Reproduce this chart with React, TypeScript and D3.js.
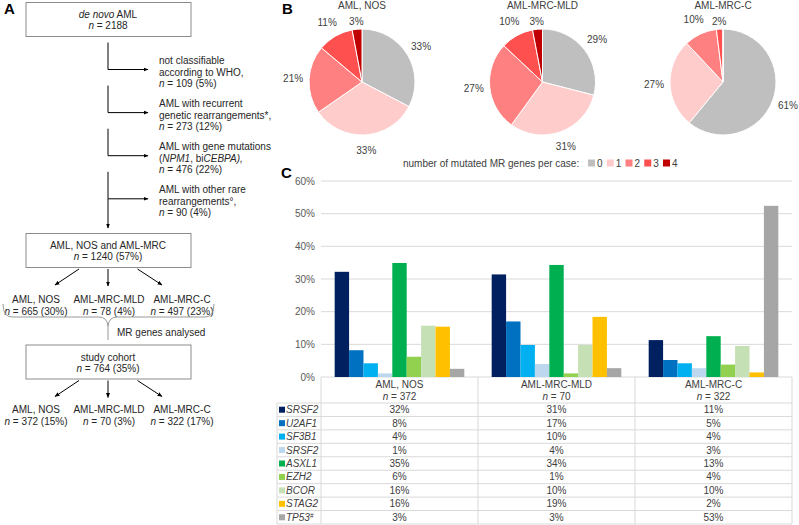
import { useEffect, useRef } from "react";
import { select, scaleLinear, scaleBand, scalePoint, pie, arc, range } from "d3";

const width = 799;
const height = 525;
const font = "'Liberation Sans', Arial, sans-serif";

// ---- panel A (flow chart), "_x_" marks italic text
const startBox = ["_de novo_ AML", "_n_ = 2188"];
const exclusions = [
  ["not classifiable", "according to WHO,", "_n_ = 109 (5%)"],
  ["AML with recurrent", "genetic rearrangements*,", "_n_ = 273 (12%)"],
  ["AML with gene mutations", "(_NPM1_, bi_CEBPA),_", "_n_ = 476 (22%)"],
  ["AML with other rare", "rearrangements°,", "_n_ = 90 (4%)"],
];
const mergedBox = ["AML, NOS and AML-MRC", "_n_ = 1240 (57%)"];
const subtypes = ["AML, NOS", "AML-MRC-MLD", "AML-MRC-C"];
const subtypeAll = ["_n_ = 665 (30%)", "_n_ = 78 (4%)", "_n_ = 497 (23%)"];
const cohortBox = ["study cohort", "_n_ = 764 (35%)"];
const subtypeStudy = ["_n_ = 372 (15%)", "_n_ = 70 (3%)", "_n_ = 322 (17%)"];

// ---- panel B (pies)
const pieGroups = ["AML, NOS", "AML-MRC-MLD", "AML-MRC-C"];
const mrCounts = ["0", "1", "2", "3", "4"];
const pieNos = [33, 33, 21, 11, 3];
const pieMld = [29, 31, 27, 10, 3];
const pieMrcC = [61, 27, 10, 2, 0];
const pieColors = ["#BFBFBF", "#FFCCCC", "#FF8080", "#FF5050", "#C00000"];

// ---- panel C (bars + table)
const genes = ["SRSF2", "U2AF1", "SF3B1", "SRSF2", "ASXL1", "EZH2", "BCOR", "STAG2", "TP53"];
const geneColors = ["#002060", "#0070C0", "#00B0F0", "#BDD7EE", "#00B050", "#92D050", "#C5E0B4", "#FFC000", "#A6A6A6"];
const cohortN = [372, 70, 322];
const barNos = [32.2, 8.2, 4.2, 1.1, 34.9, 6.2, 15.7, 15.4, 2.5];
const barMld = [31.4, 17.0, 9.8, 4.0, 34.3, 1.1, 9.8, 18.4, 2.7];
const barMrcC = [11.3, 5.2, 4.2, 2.7, 12.5, 3.8, 9.5, 1.4, 52.4];
const tableNos = [32, 8, 4, 1, 35, 6, 16, 16, 3];
const tableMld = [31, 17, 10, 4, 34, 1, 10, 19, 3];
const tableMrcC = [11, 5, 4, 3, 13, 4, 10, 2, 53];
const yTicks = [0, 10, 20, 30, 40, 50, 60];

// append a line of text, "_..._" parts in italic
function richText(g: any, str: string, x: number, y: number, anchor = "middle") {
  const t = g
    .append("text")
    .attr("x", x)
    .attr("y", y)
    .attr("dy", "0.35em")
    .attr("text-anchor", anchor);
  str.split("_").forEach((part, i) => {
    if (part === "") return;
    t.append("tspan").attr("font-style", i % 2 ? "italic" : "normal").text(part);
  });
  return t;
}

export default function App() {
  const ref = useRef(null);

  useEffect(() => {
    if (!ref.current) return;
    const svg = select(ref.current);
    svg.selectAll("*").remove();
    svg.attr("font-family", font).attr("font-size", 10);

    svg
      .append("defs")
      .append("marker")
      .attr("id", "arr")
      .attr("viewBox", "0 0 10 10")
      .attr("refX", 9)
      .attr("refY", 5)
      .attr("markerWidth", 5)
      .attr("markerHeight", 5)
      .attr("orient", "auto")
      .append("path")
      .attr("d", "M0,1 L10,5 L0,9 z")
      .attr("fill", "#000");

    // panel letters
    const letters = [["A", 4, 9], ["B", 282, 9], ["C", 281, 173]];
    letters.forEach(([l, x, y]) => {
      svg.append("text").attr("x", x).attr("y", y).attr("dy", "0.35em")
        .attr("font-size", 15).attr("font-weight", "bold").attr("fill", "#000").text(l as string);
    });

    // ================= A: flow chart
    const fa = svg.append("g").attr("fill", "#262626");
    const cx = 108;
    const boxL = 26;
    const boxW = 165;
    const box = (top: number, lines: string[]) => {
      fa.append("rect").attr("x", boxL).attr("y", top).attr("width", boxW).attr("height", 34)
        .attr("fill", "#fff").attr("stroke", "#8C8C8C").attr("stroke-width", 1);
      lines.forEach((ln, i) => richText(fa, ln, cx, top + 12 + i * 11.3));
    };
    const line = (x1: number, y1: number, x2: number, y2: number, arrow = false) => {
      const l = fa.append("line").attr("x1", x1).attr("y1", y1).attr("x2", x2).attr("y2", y2)
        .attr("stroke", "#000").attr("stroke-width", 1);
      if (arrow) l.attr("marker-end", "url(#arr)");
    };

    box(2.5, startBox);
    exclusions.forEach((lines, i) => {
      const y0 = 42.5 + i * 43.1;
      line(cx, y0, cx, y0 + 27);
      line(cx, y0 + 27, 148, y0 + 27, true);
      lines.forEach((ln, j) => richText(fa, ln, 159, y0 + 18 + j * 11.5, "start"));
    });
    line(cx, 199, cx, 228, true);
    box(233.5, mergedBox);

    const subX = scalePoint().domain(subtypes).range([36, 182]);
    const splitArrows = (top: number) => {
      line(79, top, 55, top + 16, true);
      line(cx, top, cx, top + 17, true);
      line(137.5, top, 162, top + 16, true);
    };
    splitArrows(269);
    subtypes.forEach((s, i) => {
      richText(fa, s, subX(s) as number, 299.5);
      richText(fa, subtypeAll[i], subX(s) as number, 311);
    });
    fa.append("path")
      .attr("d", "M3,304 Q3,317 12,317 L99,317 Q107,317 108,326 L108,340 M108,326 Q109,317 117,317 L205,317 Q214,317 214,304")
      .attr("fill", "none").attr("stroke", "#8C8C8C").attr("stroke-width", 0.9);
    richText(fa, "MR genes analysed", 117, 332.5, "start");
    box(345, cohortBox);
    splitArrows(380.5);
    subtypes.forEach((s, i) => {
      richText(fa, s, subX(s) as number, 409.5);
      richText(fa, subtypeStudy[i], subX(s) as number, 421);
    });

    // ================= B: pies
    const gb = svg.append("g").attr("fill", "#404040");
    const pieX = scalePoint().domain(pieGroups).range([362, 723]);
    const pieY = 82;
    const r = 53;
    const pieGen = pie<number>().sort(null).value((d) => d);
    const arcGen = arc<any>().innerRadius(0).outerRadius(r);
    const labelArc = arc<any>().innerRadius(69).outerRadius(69);
    const smallArc = arc<any>().innerRadius(61).outerRadius(61);
    [pieNos, pieMld, pieMrcC].forEach((vals, gi) => {
      const name = pieGroups[gi];
      const g = gb.append("g").attr("transform", `translate(${pieX(name)},${pieY})`);
      const arcs = pieGen(vals);
      g.selectAll("path")
        .data(arcs)
        .enter()
        .append("path")
        .attr("d", arcGen)
        .attr("fill", (d, i) => pieColors[i])
        .attr("stroke", "#fff")
        .attr("stroke-width", 1);
      g.selectAll(".lbl")
        .data(arcs.filter((d) => d.value > 0))
        .enter()
        .append("text")
        .attr("class", "lbl")
        .attr("transform", (d) => `translate(${(d.value < 5 ? smallArc : labelArc).centroid(d)})`)
        .attr("text-anchor", "middle")
        .attr("dy", "0.35em")
        .text((d) => d.value + "%");
      gb.append("text").attr("x", pieX(name) as number).attr("y", 5).attr("dy", "0.35em")
        .attr("text-anchor", "middle").text(name);
    });

    // legend
    gb.append("text").attr("x", 403).attr("y", 163).attr("dy", "0.35em")
      .text("number of mutated MR genes per case:");
    const legX = scalePoint().domain(mrCounts).range([588, 663]);
    mrCounts.forEach((c, i) => {
      gb.append("rect").attr("x", legX(c) as number).attr("y", 159.5).attr("width", 7).attr("height", 7)
        .attr("fill", pieColors[i]);
      gb.append("text").attr("x", (legX(c) as number) + 9).attr("y", 163).attr("dy", "0.35em").text(c);
    });

    // ================= C: bars
    const gc = svg.append("g").attr("fill", "#404040");
    const plotL = 321;
    const plotR = 792;
    const y = scaleLinear().domain([0, 60]).range([377, 181]);
    const x0 = scaleBand().domain(pieGroups).range([plotL, plotR]);
    const x1 = scaleBand<number>().domain(range(genes.length)).range([0, x0.bandwidth()])
      .paddingInner(0).paddingOuter(0.95);

    yTicks.forEach((t) => {
      gc.append("line").attr("x1", plotL).attr("x2", plotR).attr("y1", y(t)).attr("y2", y(t))
        .attr("stroke", "#D9D9D9").attr("stroke-width", 1);
      gc.append("text").attr("x", 315).attr("y", y(t)).attr("dy", "0.35em")
        .attr("text-anchor", "end").attr("fill", "#595959").text(t + "%");
    });

    [barNos, barMld, barMrcC].forEach((vals, gi) => {
      const g = gc.append("g").attr("transform", `translate(${x0(pieGroups[gi])},0)`);
      g.selectAll("rect")
        .data(vals)
        .enter()
        .append("rect")
        .attr("x", (d, i) => x1(i) as number)
        .attr("width", x1.bandwidth())
        .attr("y", (d) => y(d))
        .attr("height", (d) => y(0) - y(d))
        .attr("fill", (d, i) => geneColors[i]);
    });

    // table
    const tableTop = 377;
    const headBottom = 403;
    const tableBottom = 524;
    const rowY = scaleBand<number>().domain(range(genes.length)).range([headBottom, tableBottom]);
    const tableLeft = 277;
    const grid = "#D9D9D9";
    const hline = (x1: number, x2: number, yy: number) =>
      gc.append("line").attr("x1", x1).attr("x2", x2).attr("y1", yy).attr("y2", yy)
        .attr("stroke", grid).attr("stroke-width", 1);
    const vline = (xx: number, y1: number, y2: number) =>
      gc.append("line").attr("x1", xx).attr("x2", xx).attr("y1", y1).attr("y2", y2)
        .attr("stroke", grid).attr("stroke-width", 1);

    range(genes.length + 1).forEach((i) => hline(tableLeft, plotR, headBottom + i * rowY.step()));
    vline(tableLeft, headBottom, tableBottom);
    [...pieGroups.map((c) => x0(c) as number), plotR].forEach((xx) => vline(xx, tableTop, tableBottom));

    pieGroups.forEach((c, i) => {
      const mx = (x0(c) as number) + x0.bandwidth() / 2;
      gc.append("text").attr("x", mx).attr("y", 384.5).attr("dy", "0.35em")
        .attr("text-anchor", "middle").text(c);
      richText(gc, `_n_ = ${cohortN[i]}`, mx, 396);
    });

    genes.forEach((gname, i) => {
      const cy = (rowY(i) as number) + rowY.bandwidth() / 2;
      gc.append("rect").attr("x", 279).attr("y", cy - 3).attr("width", 6).attr("height", 6)
        .attr("fill", geneColors[i]);
      const t = gc.append("text").attr("x", 286).attr("y", cy).attr("dy", "0.35em")
        .attr("font-style", "italic").text(gname);
      if (gname === "TP53") {
        t.append("tspan").attr("font-size", 6.5).attr("dy", "-0.45em").attr("font-style", "normal").text("#");
      }
      [tableNos, tableMld, tableMrcC].forEach((vals, gi) => {
        const mx = (x0(pieGroups[gi]) as number) + x0.bandwidth() / 2;
        gc.append("text").attr("x", mx).attr("y", cy).attr("dy", "0.35em")
          .attr("text-anchor", "middle").text(vals[i] + "%");
      });
    });
  }, []);

  return (
    <svg
      ref={ref}
      width={width}
      height={height}
      style={{ position: "absolute", left: 0, top: 0, background: "#fff" }}
    ></svg>
  );
}
